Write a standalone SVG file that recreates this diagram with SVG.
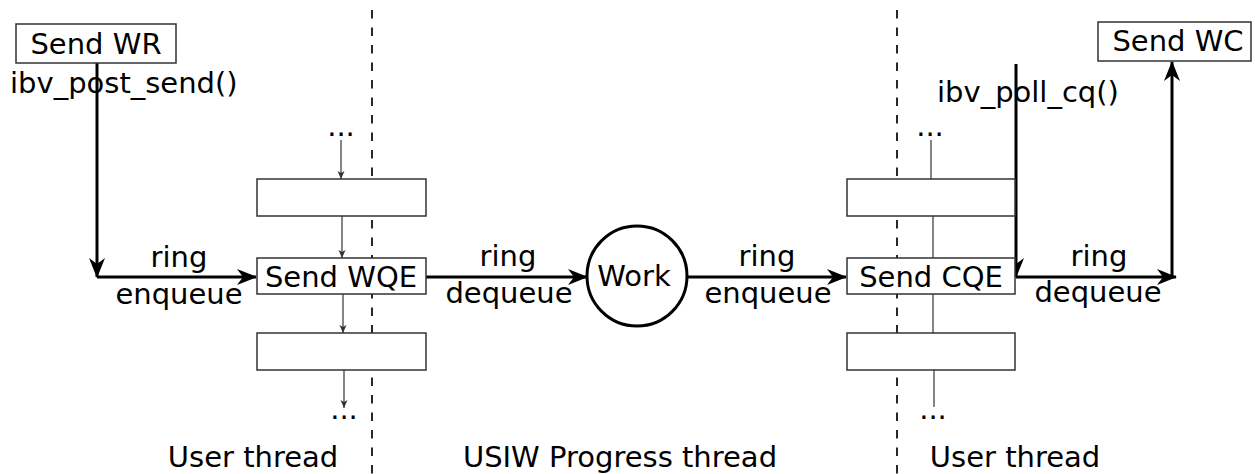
<svg xmlns="http://www.w3.org/2000/svg" width="1255" height="474" viewBox="0 0 1255 474">
  <style>
    text { font-family: "DejaVu Sans", "Liberation Sans", sans-serif; font-size: 29px; fill: #000; }
    .mid { text-anchor: middle; }
    .box { fill: #fff; stroke: #333; stroke-width: 1.5; }
    .thick { fill: none; stroke: #000; stroke-width: 3; }
    .thin { fill: none; stroke: #444; stroke-width: 1.3; }
    .sep { fill: none; stroke: #111; stroke-width: 1.8; stroke-dasharray: 8.5 9; }
  </style>
  <defs>
    <marker id="bigArrow" markerUnits="userSpaceOnUse" markerWidth="22" markerHeight="20" refX="19" refY="8" orient="auto">
      <path d="M0,0 L20,8 L0,16 L6,8 Z" fill="#000"/>
    </marker>
    <marker id="smallArrow" markerUnits="userSpaceOnUse" markerWidth="10" markerHeight="10" refX="8" refY="3.5" orient="auto">
      <path d="M0,0 L8,3.5 L0,7 L2,3.5 Z" fill="#333"/>
    </marker>
  </defs>

  <!-- thread separators -->
  <g id="separators">
    <line class="sep" x1="372" y1="10" x2="372" y2="474"/>
    <line class="sep" x1="897" y1="10" x2="897" y2="474"/>
  </g>

  <!-- connectors -->
  <g id="connectors">
    <!-- send queue ring links -->
    <line class="thin" x1="341" y1="140" x2="341" y2="179" marker-end="url(#smallArrow)"/>
    <line class="thin" x1="342" y1="216" x2="342" y2="258" marker-end="url(#smallArrow)"/>
    <line class="thin" x1="343" y1="294" x2="343" y2="333" marker-end="url(#smallArrow)"/>
    <line class="thin" x1="344" y1="370" x2="344" y2="408" marker-end="url(#smallArrow)"/>
    <!-- completion queue ring links -->
    <line class="thin" x1="931" y1="140" x2="931" y2="179"/>
    <line class="thin" x1="933" y1="216" x2="933" y2="258"/>
    <line class="thin" x1="933" y1="294" x2="933" y2="333"/>
    <line class="thin" x1="934" y1="370" x2="934" y2="407"/>

    <!-- post path -->
    <line class="thick" x1="97" y1="63" x2="97" y2="277" marker-end="url(#bigArrow)"/>
    <line class="thick" x1="97" y1="277" x2="256" y2="277" marker-end="url(#bigArrow)"/>
    <line class="thick" x1="426" y1="277" x2="587" y2="277" marker-end="url(#bigArrow)"/>
    <line class="thick" x1="687" y1="277" x2="846" y2="277" marker-end="url(#bigArrow)"/>
    <!-- poll path -->
    <line class="thick" x1="1016" y1="64" x2="1016" y2="277" marker-end="url(#bigArrow)"/>
    <line class="thick" x1="1016" y1="277" x2="1176" y2="277" marker-end="url(#bigArrow)"/>
    <line class="thick" x1="1172" y1="277" x2="1172" y2="62" marker-end="url(#bigArrow)"/>
  </g>

  <g id="send-wr">
    <rect class="box" x="16" y="24" width="160" height="39"/>
    <text class="mid" x="96" y="54">Send WR</text>
  </g>
  <text id="post-send-label" x="10" y="93">ibv_post_send()</text>

  <g id="sq-top"><text class="mid" x="341" y="136">...</text></g>
  <g id="sq-slot1"><rect class="box" x="257" y="179" width="169" height="37"/></g>
  <g id="send-wqe">
    <rect class="box" x="257" y="258" width="169" height="36"/>
    <text class="mid" x="341" y="287">Send WQE</text>
  </g>
  <g id="sq-slot3"><rect class="box" x="257" y="333" width="169" height="37"/></g>
  <g id="sq-bottom"><text class="mid" x="344" y="419">...</text></g>

  <g id="label-enqueue-1">
    <text class="mid" x="179" y="267">ring</text>
    <text class="mid" x="179" y="304">enqueue</text>
  </g>
  <g id="label-dequeue-1">
    <text class="mid" x="508" y="266">ring</text>
    <text class="mid" x="509" y="303">dequeue</text>
  </g>

  <g id="work">
    <circle cx="637" cy="276" r="50" fill="#fff" stroke="#000" stroke-width="3"/>
    <text class="mid" x="634" y="286">Work</text>
  </g>

  <g id="label-enqueue-2">
    <text class="mid" x="767" y="266">ring</text>
    <text class="mid" x="768" y="303">enqueue</text>
  </g>

  <g id="cq-top"><text class="mid" x="930" y="136">...</text></g>
  <g id="cq-slot1"><rect class="box" x="847" y="179" width="168" height="37"/></g>
  <g id="send-cqe">
    <rect class="box" x="847" y="258" width="168" height="36"/>
    <text class="mid" x="931" y="287">Send CQE</text>
  </g>
  <g id="cq-slot3"><rect class="box" x="847" y="333" width="168" height="37"/></g>
  <g id="cq-bottom"><text class="mid" x="933" y="419">...</text></g>

  <text id="poll-cq-label" x="937" y="102">ibv_poll_cq()</text>

  <g id="label-dequeue-2">
    <text class="mid" x="1099" y="266">ring</text>
    <text class="mid" x="1098" y="302">dequeue</text>
  </g>

  <g id="send-wc">
    <rect class="box" x="1098" y="22" width="153" height="39"/>
    <text class="mid" x="1178" y="51">Send WC</text>
  </g>

  <g id="thread-labels">
    <text class="mid" x="253" y="467">User thread</text>
    <text class="mid" x="620" y="467">USIW Progress thread</text>
    <text class="mid" x="1015" y="467">User thread</text>
  </g>
</svg>
